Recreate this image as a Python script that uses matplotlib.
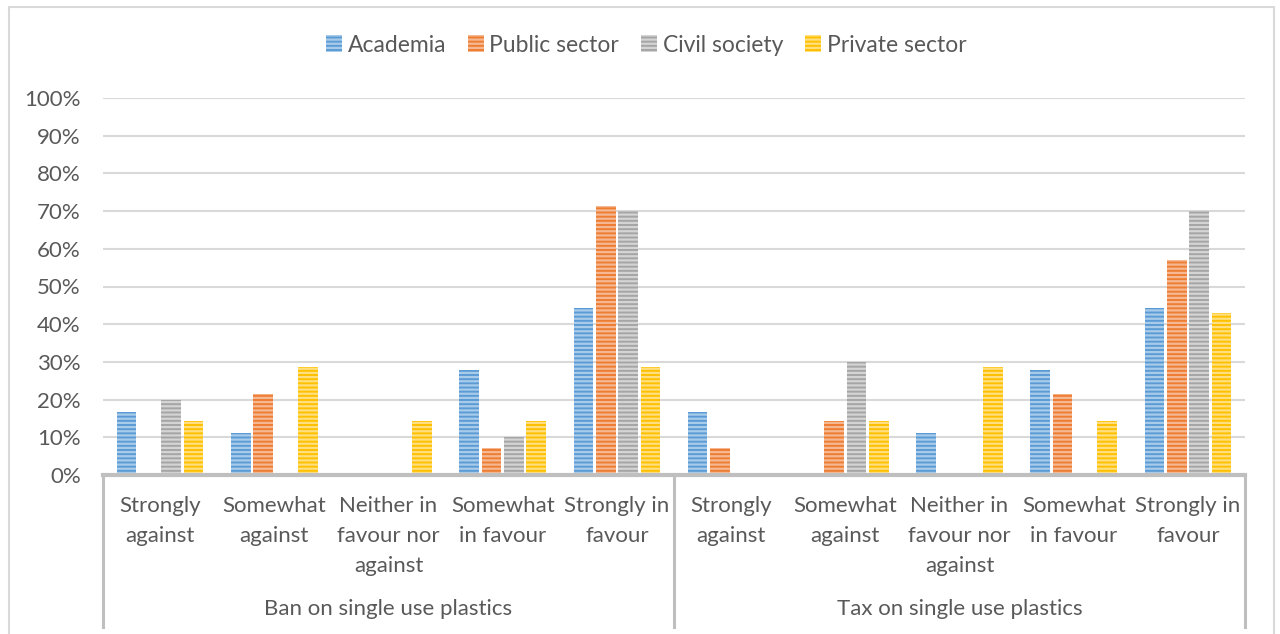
import matplotlib
matplotlib.use("Agg")
import matplotlib.pyplot as plt
import matplotlib.patches as mpatches
import matplotlib.transforms as mtrans
import numpy as np

plt.rcParams['font.family'] = ['Lato', 'DejaVu Sans']
plt.rcParams['hatch.linewidth'] = 1.6

groups = ["Ban on single use plastics", "Tax on single use plastics"]
categories = ["Strongly\nagainst", "Somewhat\nagainst", "Neither in\nfavour nor\nagainst",
              "Somewhat\nin favour", "Strongly in\nfavour"]
series = ["Academia", "Public sector", "Civil society", "Private sector"]

academia = [0.167, 0.111, 0.0, 0.278, 0.444, 0.167, 0.0, 0.111, 0.278, 0.444]
public_sector = [0.0, 0.214, 0.0, 0.071, 0.714, 0.071, 0.143, 0.0, 0.214, 0.571]
civil_society = [0.20, 0.0, 0.0, 0.10, 0.70, 0.0, 0.30, 0.0, 0.0, 0.70]
private_sector = [0.143, 0.286, 0.143, 0.143, 0.286, 0.0, 0.143, 0.286, 0.143, 0.429]

values = [academia, public_sector, civil_society, private_sector]
colors = ["#5B9BD5", "#ED7D31", "#A5A5A5", "#FFC000"]
stripes = ["#A9CBEA", "#F6B892", "#D4D4D4", "#FFDF7F"]

text_color = "#595959"
FS = 16
W, H = 1280, 634
fig = plt.figure(figsize=(W / 100, H / 100), dpi=100)

# outer chart border
fig.patches.append(mpatches.Rectangle((9 / W, -0.05), (1274 - 9) / W, 1.05 - 7 / H,
                                      transform=fig.transFigure, fill=False,
                                      edgecolor="#D9D9D9", linewidth=1.5))

left, right = 103 / W, 1245 / W
bottom, top = 1 - 475 / H, 1 - 98 / H
ax = fig.add_axes([left, bottom, right - left, top - bottom])

n_cat = len(groups) * len(categories)
x = np.arange(n_cat)
step = 0.196
bw = 0.172
for i, (vals, c, sc, name) in enumerate(zip(values, colors, stripes, series)):
    offs = (i - 1.5) * step
    ax.bar(x + offs, vals, width=bw, color=c, edgecolor=sc, linewidth=0,
           hatch="----", label=name, zorder=3)

ax.set_xlim(-0.5, n_cat - 0.5)
ax.set_ylim(0, 1.0)
ax.set_yticks(np.arange(0, 1.01, 0.1))
ax.set_yticklabels([f"{int(round(v * 100))}%" for v in np.arange(0, 1.01, 0.1)],
                   fontsize=FS, color=text_color)
ax.tick_params(axis='y', length=0, pad=16)
ax.tick_params(axis='x', length=0, labelbottom=False)
ax.grid(axis='y', color="#D9D9D9", linewidth=1.5, zorder=0)
for s in ["top", "right", "left", "bottom"]:
    ax.spines[s].set_visible(False)
ax.axhline(0, color="#BFBFBF", linewidth=3, zorder=4, clip_on=False)

# category labels
trans = mtrans.blended_transform_factory(ax.transData, fig.transFigure)
for gi, g in enumerate(groups):
    for ci, cat in enumerate(categories):
        xi = gi * len(categories) + ci
        ax.text(xi, 1 - 496 / H, cat, transform=trans, ha="center", va="top",
                fontsize=FS, color=text_color, linespacing=1.63)
    ax.text(gi * len(categories) + (len(categories) - 1) / 2, 1 - 609 / H, g,
            transform=trans, ha="center", va="center", fontsize=FS, color=text_color)

# vertical separators
for xv in [-0.5, len(categories) - 0.5, n_cat - 0.5]:
    ax.plot([xv, xv], [1 - 475 / H, 1 - 627 / H], transform=trans, color="#BFBFBF",
            linewidth=2.2, clip_on=False, zorder=4)

handles = [mpatches.Patch(facecolor=c, edgecolor=sc, linewidth=0, hatch="----")
           for c, sc in zip(colors, stripes)]
leg = fig.legend(handles, series, loc="center", bbox_to_anchor=(646 / W, 1 - 45 / H),
                 ncol=4, frameon=False, fontsize=16.5, handlelength=0.7, handleheight=0.7,
                 handletextpad=0.25, columnspacing=0.95, labelcolor=text_color)

fig.savefig("out.png", dpi=100)
